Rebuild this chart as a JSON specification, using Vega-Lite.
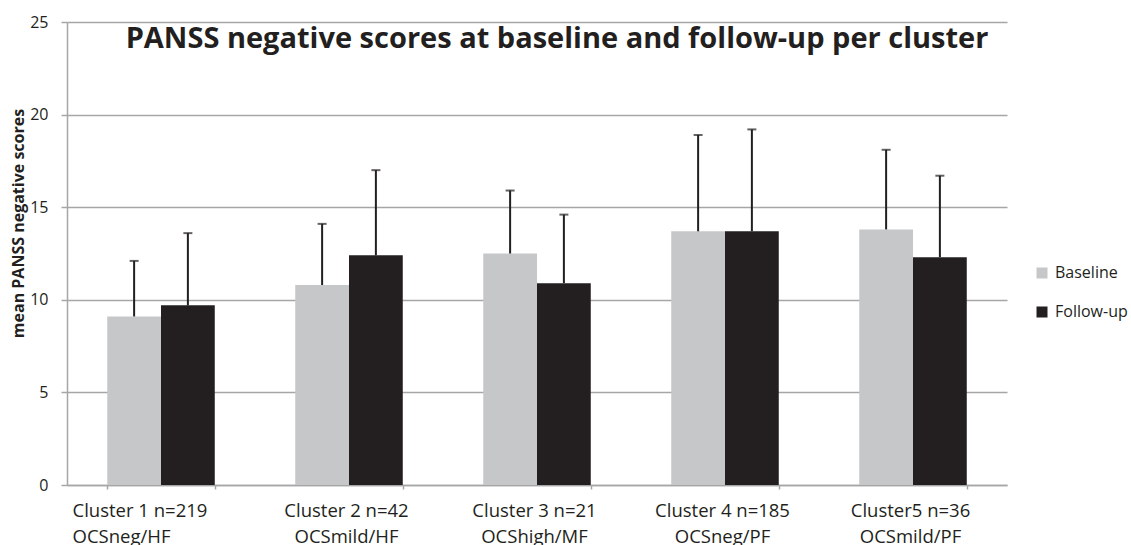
{
  "$schema": "https://vega.github.io/schema/vega-lite/v6.json",
  "width": 940,
  "height": 463,
  "autosize": "none",
  "padding": {"left": 67, "top": 22, "right": 124, "bottom": 60},
  "background": "white",
  "title": {
    "text": "PANSS negative scores at baseline and follow-up per cluster",
    "font": "Open Sans",
    "fontSize": 29,
    "fontWeight": "bold",
    "color": "#231f20",
    "anchor": "middle",
    "dx": 20,
    "offset": -40
  },
  "data": {
    "values": [
      {"cluster": "Cluster 1 n=219|OCSneg/HF", "group": "Baseline", "mean": 9.1, "upper": 12.1},
      {"cluster": "Cluster 1 n=219|OCSneg/HF", "group": "Follow-up", "mean": 9.7, "upper": 13.6},
      {"cluster": "Cluster 2 n=42|OCSmild/HF", "group": "Baseline", "mean": 10.8, "upper": 14.1},
      {"cluster": "Cluster 2 n=42|OCSmild/HF", "group": "Follow-up", "mean": 12.4, "upper": 17.0},
      {"cluster": "Cluster 3 n=21|OCShigh/MF", "group": "Baseline", "mean": 12.5, "upper": 15.9},
      {"cluster": "Cluster 3 n=21|OCShigh/MF", "group": "Follow-up", "mean": 10.9, "upper": 14.6},
      {"cluster": "Cluster 4 n=185|OCSneg/PF", "group": "Baseline", "mean": 13.7, "upper": 18.9},
      {"cluster": "Cluster 4 n=185|OCSneg/PF", "group": "Follow-up", "mean": 13.7, "upper": 19.2},
      {"cluster": "Cluster5 n=36|OCSmild/PF", "group": "Baseline", "mean": 13.8, "upper": 18.1},
      {"cluster": "Cluster5 n=36|OCSmild/PF", "group": "Follow-up", "mean": 12.3, "upper": 16.7}
    ]
  },
  "encoding": {
    "x": {
      "field": "cluster",
      "type": "nominal",
      "sort": null,
      "scale": {"paddingInner": 0.428, "paddingOuter": 0.214},
      "axis": {
        "title": null,
        "labelAngle": 0,
        "labelExpr": "isValid(datum.value) ? split(datum.value, '|') : ''",
        "labelFont": "Open Sans",
        "labelFontSize": 18.5,
        "labelColor": "#231f20",
        "labelLineHeight": 26,
        "labelBaseline": "top",
        "labelPadding": 12,
        "labelAlign": {"condition": {"test": "datum.value === 'Cluster 1 n=219|OCSneg/HF'", "value": "left"}, "value": "center"},
        "labelOffset": {"condition": {"test": "datum.value === 'Cluster 1 n=219|OCSneg/HF'", "value": -89}, "value": -3},
        "tickBand": "extent",
        "tickSize": 4,
        "tickColor": "#a6a6a6",
        "tickWidth": 1.5,
        "domainColor": "#a6a6a6",
        "domainWidth": 1.5,
        "grid": false,
        "labelOverlap": false,
        "labelBound": false
      }
    },
    "xOffset": {
      "field": "group",
      "type": "nominal",
      "sort": ["Baseline", "Follow-up"],
      "scale": {"paddingInner": 0, "paddingOuter": 0}
    }
  },
  "layer": [
    {
      "mark": {"type": "bar"},
      "encoding": {
        "y": {
          "field": "mean",
          "type": "quantitative",
          "scale": {"domain": [0, 25], "nice": false},
          "axis": {
            "title": "mean PANSS negative scores",
            "titleFont": "Open Sans",
            "titleFontSize": 16,
            "titleFontWeight": "bold",
            "titleColor": "#231f20",
            "titleAngle": -90,
            "titleX": -49,
            "titleY": 201,
            "titleAlign": "center",
            "titleBaseline": "middle",
            "values": [0, 5, 10, 15, 20, 25],
            "labelFont": "Open Sans",
            "labelFontSize": 16,
            "labelColor": "#231f20",
            "labelPadding": 13,
            "tickSize": 6,
            "tickColor": "#a6a6a6",
            "tickWidth": 1.5,
            "domainColor": "#a6a6a6",
            "domainWidth": 1.5,
            "grid": true,
            "gridColor": "#a6a6a6",
            "gridWidth": 1.5
          }
        },
        "color": {
          "field": "group",
          "type": "nominal",
          "sort": ["Baseline", "Follow-up"],
          "scale": {"domain": ["Baseline", "Follow-up"], "range": ["#c6c7c9", "#231f20"]},
          "legend": {
            "title": null,
            "orient": "none",
            "legendX": 967,
            "legendY": 243,
            "symbolType": "square",
            "symbolSize": 121,
            "symbolStrokeWidth": 0,
            "labelFont": "Open Sans",
            "labelFontSize": 16,
            "labelColor": "#231f20",
            "labelOffset": 5,
            "rowPadding": 23
          }
        }
      }
    },
    {
      "mark": {"type": "rule", "color": "#231f20", "strokeWidth": 2},
      "encoding": {
        "y": {"field": "mean", "type": "quantitative"},
        "y2": {"field": "upper"}
      }
    },
    {
      "mark": {"type": "tick", "color": "#231f20", "thickness": 2, "size": 9, "orient": "horizontal"},
      "encoding": {
        "y": {"field": "upper", "type": "quantitative"}
      }
    }
  ],
  "config": {
    "view": {"stroke": null}
  }
}
